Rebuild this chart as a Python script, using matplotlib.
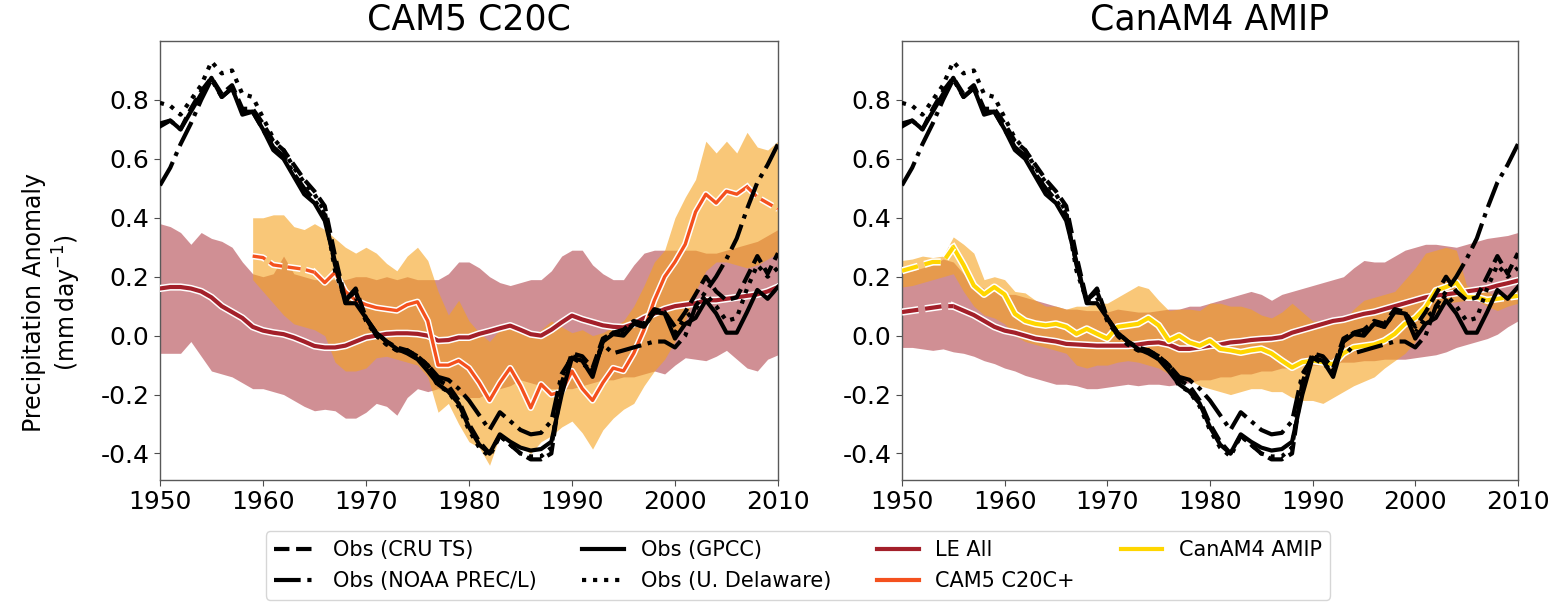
import numpy as np
import matplotlib
matplotlib.use("Agg")
import matplotlib.pyplot as plt
import matplotlib.patheffects as pe
from matplotlib.lines import Line2D

plt.rcParams["axes.unicode_minus"] = False

# ---- data ----
years = np.arange(1950, 2011)

obs_cru = [0.72, 0.73, 0.70, 0.77, 0.83, 0.875, 0.82, 0.85, 0.77, 0.77,
           0.72, 0.66, 0.63, 0.58, 0.53, 0.49, 0.44, 0.27, 0.12, 0.16,
           0.06, 0.01, -0.02, -0.04, -0.05, -0.07, -0.10, -0.15, -0.17, -0.22,
           -0.30, -0.36, -0.40, -0.34, -0.37, -0.40, -0.42, -0.42, -0.40, -0.16,
           -0.06, -0.07, -0.11, -0.01, 0.01, 0.02, 0.05, 0.04, 0.09, 0.08,
           0.03, 0.08, 0.14, 0.20, 0.15, 0.12, 0.13, 0.20, 0.27, 0.21, 0.28]
obs_noaa = [0.51, 0.57, 0.65, 0.72, 0.80, 0.87, 0.81, 0.84, 0.76, 0.76,
            0.70, 0.64, 0.61, 0.55, 0.50, 0.46, 0.41, 0.24, 0.12, 0.15,
            0.06, 0.00, -0.03, -0.05, -0.05, -0.07, -0.10, -0.14, -0.15, -0.18,
            -0.22, -0.27, -0.32, -0.26, -0.29, -0.32, -0.335, -0.33, -0.29, -0.13,
            -0.075, -0.095, -0.12, -0.03, -0.06, -0.05, -0.04, -0.03, -0.02, -0.02,
            -0.04, 0.00, 0.10, 0.15, 0.20, 0.26, 0.33, 0.43, 0.52, 0.58, 0.65]
obs_gpcc = [0.71, 0.73, 0.70, 0.76, 0.82, 0.875, 0.81, 0.84, 0.75, 0.76,
            0.70, 0.63, 0.60, 0.54, 0.48, 0.45, 0.39, 0.25, 0.11, 0.11,
            0.06, 0.01, -0.02, -0.045, -0.06, -0.08, -0.12, -0.165, -0.19, -0.23,
            -0.31, -0.37, -0.40, -0.335, -0.36, -0.38, -0.39, -0.385, -0.36, -0.20,
            -0.075, -0.085, -0.14, -0.02, 0.005, 0.00, 0.04, 0.03, 0.08, 0.075,
            -0.01, 0.04, 0.06, 0.12, 0.075, 0.01, 0.01, 0.08, 0.155, 0.125, 0.165]
obs_udel = [0.79, 0.78, 0.75, 0.80, 0.85, 0.93, 0.89, 0.90, 0.82, 0.81,
            0.74, 0.67, 0.63, 0.57, 0.52, 0.48, 0.42, 0.22, 0.12, 0.13,
            0.05, 0.00, -0.03, -0.05, -0.05, -0.08, -0.11, -0.17, -0.19, -0.24,
            -0.32, -0.38, -0.41, -0.34, -0.37, -0.40, -0.41, -0.41, -0.38, -0.14,
            -0.07, -0.08, -0.12, -0.02, 0.01, 0.01, 0.04, 0.03, 0.08, 0.08,
            0.01, 0.06, 0.09, 0.14, 0.10, 0.05, 0.06, 0.16, 0.24, 0.20, 0.23]

# LE All (left panel, CAM5 C20C)
le_left_mean = [0.16, 0.165, 0.165, 0.16, 0.15, 0.13, 0.10, 0.08, 0.06, 0.03,
                0.017, 0.01, 0.005, -0.006, -0.02, -0.035, -0.04, -0.04, -0.034, -0.02,
                -0.006, 0.0, 0.006, 0.008, 0.008, 0.006, 0.0, -0.017, -0.015, -0.006,
                -0.006, 0.006, 0.015, 0.025, 0.034, 0.02, 0.005, 0.0, 0.02, 0.045,
                0.068, 0.055, 0.045, 0.035, 0.03, 0.028, 0.04, 0.06, 0.075, 0.09,
                0.10, 0.105, 0.11, 0.12, 0.12, 0.125, 0.13, 0.135, 0.14, 0.15, 0.165]
le_left_hi = [0.38, 0.37, 0.35, 0.31, 0.35, 0.33, 0.32, 0.30, 0.25, 0.21,
              0.20, 0.21, 0.27, 0.21, 0.20, 0.19, 0.19, 0.19, 0.19, 0.20,
              0.20, 0.19, 0.20, 0.19, 0.20, 0.19, 0.19, 0.19, 0.21, 0.25,
              0.25, 0.23, 0.20, 0.18, 0.17, 0.18, 0.19, 0.19, 0.22, 0.27,
              0.29, 0.29, 0.24, 0.21, 0.19, 0.19, 0.24, 0.28, 0.29, 0.29,
              0.29, 0.29, 0.29, 0.28, 0.28, 0.29, 0.30, 0.31, 0.32, 0.34, 0.36]
le_left_lo = [-0.06, -0.06, -0.06, -0.02, -0.07, -0.12, -0.13, -0.14, -0.16, -0.18,
              -0.18, -0.19, -0.20, -0.22, -0.24, -0.255, -0.25, -0.255, -0.28, -0.28,
              -0.26, -0.23, -0.24, -0.27, -0.21, -0.18, -0.19, -0.18, -0.19, -0.20,
              -0.21, -0.21, -0.19, -0.18, -0.17, -0.15, -0.16, -0.17, -0.18, -0.18,
              -0.18, -0.17, -0.16, -0.15, -0.15, -0.14, -0.14, -0.13, -0.12, -0.13,
              -0.10, -0.075, -0.08, -0.085, -0.07, -0.05, -0.08, -0.11, -0.12, -0.08, -0.065]

# CAM5 C20C+ (1959-2010)
cam_years = np.arange(1959, 2011)
cam_mean = [0.27, 0.265, 0.24, 0.235, 0.23, 0.225, 0.215, 0.18, 0.215, 0.15, 0.12,
            0.105, 0.095, 0.09, 0.085, 0.105, 0.115, 0.05, -0.10, -0.10, -0.085, -0.11,
            -0.16, -0.22, -0.16, -0.11, -0.17, -0.245, -0.165, -0.20, -0.19, -0.12,
            -0.18, -0.22, -0.16, -0.11, -0.12, -0.06, 0.02, 0.12, 0.20, 0.25,
            0.31, 0.42, 0.48, 0.45, 0.49, 0.48, 0.505, 0.47, 0.45, 0.43]
cam_hi = [0.40, 0.40, 0.41, 0.41, 0.37, 0.36, 0.38, 0.36, 0.33, 0.30, 0.28,
          0.30, 0.28, 0.245, 0.22, 0.27, 0.30, 0.255, 0.15, 0.07, 0.12, 0.05,
          0.01, -0.02, 0.02, 0.03, 0.02, 0.0, 0.02, 0.05, 0.03, 0.01,
          0.02, 0.0, 0.01, 0.03, 0.05, 0.10, 0.17, 0.25, 0.29, 0.40,
          0.47, 0.53, 0.66, 0.62, 0.66, 0.62, 0.69, 0.64, 0.63, 0.66]
cam_lo = [0.19, 0.15, 0.11, 0.07, 0.04, 0.03, 0.02, 0.0, -0.09, -0.12, -0.12,
          -0.11, -0.075, -0.07, -0.08, -0.09, -0.10, -0.14, -0.26, -0.23, -0.30, -0.36,
          -0.38, -0.44, -0.34, -0.36, -0.38, -0.40, -0.36, -0.34, -0.31, -0.29,
          -0.33, -0.385, -0.32, -0.28, -0.25, -0.23, -0.17, -0.12, -0.08, -0.02,
          0.05, 0.15, 0.22, 0.25, 0.25, 0.24, 0.23, 0.24, 0.26, 0.28]

# LE All (right panel, CanAM4 AMIP)
le_right_mean = [0.08, 0.085, 0.09, 0.095, 0.10, 0.10, 0.085, 0.07, 0.05, 0.03, 0.017,
                 0.01, 0.0, -0.01, -0.015, -0.02, -0.028, -0.03, -0.032, -0.034, -0.034,
                 -0.034, -0.034, -0.03, -0.025, -0.023, -0.03, -0.045, -0.045, -0.04, -0.034,
                 -0.03, -0.023, -0.02, -0.015, -0.012, -0.01, -0.005, 0.01, 0.02, 0.03,
                 0.04, 0.05, 0.055, 0.065, 0.074, 0.08, 0.09, 0.10, 0.11, 0.12,
                 0.13, 0.136, 0.14, 0.145, 0.15, 0.155, 0.16, 0.17, 0.178, 0.187]
le_right_hi = [0.22, 0.22, 0.23, 0.24, 0.26, 0.25, 0.21, 0.18, 0.16, 0.15, 0.14,
               0.14, 0.13, 0.12, 0.11, 0.10, 0.09, 0.09, 0.085, 0.085, 0.08,
               0.09, 0.085, 0.08, 0.08, 0.085, 0.09, 0.09, 0.10, 0.10, 0.11,
               0.12, 0.13, 0.14, 0.15, 0.14, 0.12, 0.14, 0.15, 0.16, 0.17,
               0.18, 0.19, 0.20, 0.23, 0.255, 0.25, 0.25, 0.27, 0.29, 0.30,
               0.31, 0.31, 0.305, 0.30, 0.31, 0.32, 0.33, 0.335, 0.34, 0.35]
le_right_lo = [-0.04, -0.04, -0.045, -0.05, -0.045, -0.055, -0.06, -0.07, -0.085, -0.095, -0.11,
               -0.12, -0.135, -0.145, -0.155, -0.165, -0.165, -0.17, -0.18, -0.18, -0.175,
               -0.17, -0.165, -0.17, -0.165, -0.165, -0.17, -0.165, -0.16, -0.15, -0.15,
               -0.14, -0.14, -0.13, -0.13, -0.12, -0.12, -0.11, -0.11, -0.10, -0.10,
               -0.10, -0.09, -0.09, -0.09, -0.085, -0.085, -0.08, -0.08, -0.08, -0.075,
               -0.07, -0.065, -0.055, -0.04, -0.03, -0.02, -0.01, 0.005, 0.03, 0.05]

# CanAM4 AMIP (1950-2010)
can_mean = [0.22, 0.23, 0.24, 0.25, 0.25, 0.30, 0.24, 0.17, 0.14, 0.165, 0.14,
            0.074, 0.05, 0.04, 0.035, 0.04, 0.03, 0.006, 0.023, 0.006, -0.01,
            0.03, 0.035, 0.04, 0.06, 0.035, -0.017, 0.0, -0.023, -0.034, -0.017,
            -0.045, -0.05, -0.057, -0.05, -0.045, -0.06, -0.085, -0.108, -0.09, -0.085,
            -0.09, -0.097, -0.06, -0.04, -0.035, -0.03, -0.017, 0.006, 0.04, 0.06,
            0.096, 0.153, 0.165, 0.18, 0.13, 0.13, 0.12, 0.125, 0.13, 0.135]
can_hi = [0.255, 0.26, 0.27, 0.265, 0.27, 0.335, 0.31, 0.28, 0.19, 0.20, 0.19,
          0.15, 0.145, 0.12, 0.10, 0.10, 0.09, 0.10, 0.10, 0.11, 0.11,
          0.13, 0.15, 0.17, 0.16, 0.12, 0.085, 0.09, 0.09, 0.085, 0.11,
          0.11, 0.10, 0.10, 0.09, 0.07, 0.06, 0.08, 0.11, 0.08, 0.05,
          0.05, 0.05, 0.05, 0.09, 0.12, 0.13, 0.14, 0.15, 0.19, 0.23,
          0.28, 0.29, 0.30, 0.29, 0.17, 0.16, 0.15, 0.13, 0.14, 0.16]
can_lo = [0.165, 0.17, 0.18, 0.19, 0.20, 0.21, 0.15, 0.10, 0.07, 0.06, 0.04,
          0.0, -0.02, -0.03, -0.04, -0.05, -0.06, -0.10, -0.11, -0.10, -0.10,
          -0.09, -0.085, -0.09, -0.10, -0.11, -0.13, -0.14, -0.15, -0.17, -0.18,
          -0.19, -0.20, -0.19, -0.18, -0.18, -0.19, -0.19, -0.21, -0.22, -0.22,
          -0.23, -0.21, -0.19, -0.17, -0.155, -0.14, -0.11, -0.085, -0.06, -0.02,
          0.04, 0.08, 0.11, 0.115, 0.12, 0.12, 0.10, 0.085, 0.10, 0.11]

xticks = [1950, 1960, 1970, 1980, 1990, 2000, 2010]
yticks = [-0.4, -0.2, 0.0, 0.2, 0.4, 0.6, 0.8]

# ---- style ----
LE_COL = "#a3202a"
BAND_COL = "#f5a21e"
CAM_COL = "#f4511e"
CAN_COL = "#ffd600"


def outlined(lw):
    return [pe.Stroke(linewidth=lw + 2.2, foreground="white"), pe.Normal()]


def mean_line(ax, x, y, color, dashed_head, dashed_tail, lw=2.6):
    # solid in the middle, dashed where the running window is incomplete
    x = np.asarray(x)
    y = np.asarray(y)
    n = len(x)
    ax.plot(x[dashed_head:n - dashed_tail], y[dashed_head:n - dashed_tail],
            color=color, lw=lw, path_effects=outlined(lw), zorder=4)
    if dashed_head:
        ax.plot(x[:dashed_head + 1], y[:dashed_head + 1], color=color, lw=lw,
                ls=(0, (4, 1.6)), path_effects=outlined(lw), zorder=4)
    if dashed_tail:
        ax.plot(x[n - dashed_tail - 1:], y[n - dashed_tail - 1:], color=color, lw=lw,
                ls=(0, (4, 1.6)), path_effects=outlined(lw), zorder=4)


def obs_lines(ax):
    ax.plot(years, obs_cru, color="k", lw=3, ls="--", zorder=5)
    ax.plot(years, obs_noaa, color="k", lw=3, ls="-.", zorder=5)
    ax.plot(years, obs_gpcc, color="k", lw=3, ls="-", zorder=5)
    ax.plot(years, obs_udel, color="k", lw=3, ls=":", zorder=5)


def style_axes(ax, title):
    ax.set_xlim(1950, 2010)
    ax.set_ylim(-0.49, 1.0)
    ax.set_xticks(xticks)
    ax.set_yticks(yticks)
    ax.tick_params(labelsize=18, length=4, color="0.3")
    ax.set_title(title, fontsize=25, pad=8)
    for s in ax.spines.values():
        s.set_color("0.35")
        s.set_linewidth(1.0)


fig = plt.figure(figsize=(15.5, 6.1), dpi=100)
ax1 = fig.add_axes([0.1032, 0.2131, 0.3987, 0.7197])
ax2 = fig.add_axes([0.5819, 0.2131, 0.3974, 0.7197])

# left: CAM5 C20C
ax1.fill_between(years, le_left_lo, le_left_hi, color=LE_COL, alpha=0.5, lw=0, zorder=1)
ax1.fill_between(cam_years, cam_lo, cam_hi, color=BAND_COL, alpha=0.6, lw=0, zorder=2)
mean_line(ax1, years, le_left_mean, LE_COL, 0, 0, lw=3)
mean_line(ax1, cam_years, cam_mean, CAM_COL, 6, 3, lw=2.4)
obs_lines(ax1)
style_axes(ax1, "CAM5 C20C")
ax1.set_ylabel("Precipitation Anomaly\n(mm$\\,$day$^{-1}$)", fontsize=17)
ax1.yaxis.set_label_coords(-0.125, 0.405)

# right: CanAM4 AMIP
ax2.fill_between(years, le_right_lo, le_right_hi, color=LE_COL, alpha=0.5, lw=0, zorder=1)
ax2.fill_between(years, can_lo, can_hi, color=BAND_COL, alpha=0.6, lw=0, zorder=2)
mean_line(ax2, years, le_right_mean, LE_COL, 5, 0, lw=3)
mean_line(ax2, years, can_mean, CAN_COL, 5, 3, lw=3)
obs_lines(ax2)
style_axes(ax2, "CanAM4 AMIP")

handles = [
    Line2D([], [], color="k", lw=3, ls="--", label="Obs (CRU TS)"),
    Line2D([], [], color="k", lw=3, ls="-.", label="Obs (NOAA PREC/L)"),
    Line2D([], [], color="k", lw=3, ls="-", label="Obs (GPCC)"),
    Line2D([], [], color="k", lw=3, ls=":", label="Obs (U. Delaware)"),
    Line2D([], [], color=LE_COL, lw=3, label="LE All"),
    Line2D([], [], color=CAM_COL, lw=3, label="CAM5 C20C+"),
    Line2D([], [], color=CAN_COL, lw=3, label="CanAM4 AMIP"),
]
fig.legend(handles=handles, loc="lower center", bbox_to_anchor=(0.515, 0.0),
           ncol=4, fontsize=15, frameon=True, handlelength=2.0,
           columnspacing=2.2, labelspacing=0.55, borderpad=0.4)

fig.savefig("out.png", dpi=100)
